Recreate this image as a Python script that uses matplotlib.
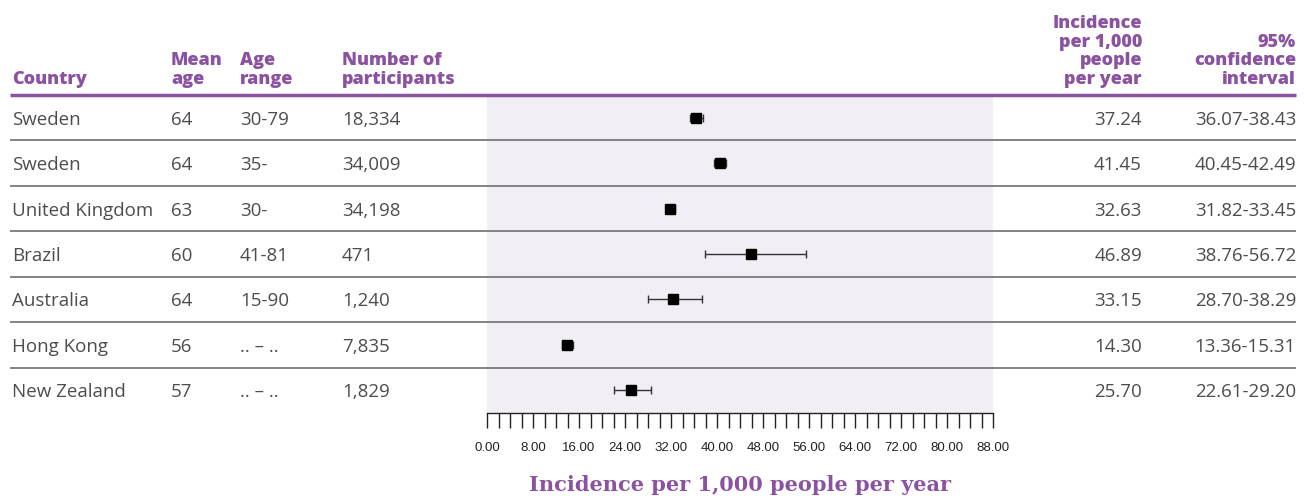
import numpy as np
import matplotlib.pyplot as plt
from matplotlib.transforms import blended_transform_factory

# table data
countries = ["Sweden", "Sweden", "United Kingdom", "Brazil", "Australia", "Hong Kong", "New Zealand"]
mean_age = ["64", "64", "63", "60", "64", "56", "57"]
age_range = ["30-79", "35-", "30-", "41-81", "15-90", ".. \u2013 ..", ".. \u2013 .."]
participants = ["18,334", "34,009", "34,198", "471", "1,240", "7,835", "1,829"]
incidence = np.array([37.24, 41.45, 32.63, 46.89, 33.15, 14.30, 25.70])
ci_low = np.array([36.07, 40.45, 31.82, 38.76, 28.70, 13.36, 22.61])
ci_high = np.array([38.43, 42.49, 33.45, 56.72, 38.29, 15.31, 29.20])
tick_labels = ["0.00", "8.00", "16.00", "24.00", "32.00", "40.00", "48.00",
               "56.00", "64.00", "72.00", "80.00", "88.00"]

purple = "#8b52a1"
grey_text = "#4d4d4d"
W, H = 1309, 496

fig = plt.figure(figsize=(W / 100, H / 100), dpi=100)
ax = fig.add_axes([487 / W, (H - 413) / H, (993 - 487) / W, (413 - 95) / H])
ax.set_facecolor("#f2eef5")

n = len(countries)
rows = np.arange(n) + 0.5
ax.errorbar(incidence, rows, xerr=[incidence - ci_low, ci_high - incidence],
            fmt="s", color="black", ecolor="#333333", elinewidth=1,
            capsize=3, capthick=1, markersize=7, zorder=3)

ax.set_xlim(0, 90)
ax.set_ylim(n, 0)
for s in ["top", "left", "right"]:
    ax.spines[s].set_visible(False)
ax.spines["bottom"].set_color("#222222")
ax.spines["bottom"].set_linewidth(1)
ax.set_yticks([])
ax.set_xticks(np.linspace(0, 90, len(tick_labels)))
ax.set_xticklabels(tick_labels, fontfamily="Liberation Sans", fontsize=9.5, color="#222222")
ax.set_xticks(np.linspace(0, 90, 45), minor=True)
ax.tick_params(axis="x", which="both", direction="out", length=11, width=1,
               color="#222222", pad=10)
ax.set_xlabel("Incidence per 1,000 people per year", fontfamily="DejaVu Serif",
              fontweight="bold", fontsize=15, color=purple, labelpad=15)

# row lines spanning the full table
tr = blended_transform_factory(fig.transFigure, ax.transData)
ax.plot([10 / W, 1296 / W], [0, 0], transform=tr, color=purple, lw=2.5,
        clip_on=False, solid_capstyle="butt", zorder=4)
for i in range(1, n):
    ax.plot([10 / W, 1296 / W], [i, i], transform=tr, color="#7a7a7a", lw=1.3,
            clip_on=False, solid_capstyle="butt", zorder=4)

# table cells
cell = dict(transform=tr, fontfamily="Open Sans", fontsize=13.5, color=grey_text,
            va="center_baseline")
for i in range(n):
    y = rows[i]
    fig.text(12 / W, y, countries[i], ha="left", **cell)
    fig.text(171 / W, y, mean_age[i], ha="left", **cell)
    fig.text(240 / W, y, age_range[i], ha="left", **cell)
    fig.text(342 / W, y, participants[i], ha="left", **cell)
    fig.text(1142 / W, y, f"{incidence[i]:.2f}", ha="right", **cell)
    fig.text(1296 / W, y, f"{ci_low[i]:.2f}-{ci_high[i]:.2f}", ha="right", **cell)

# headers
hdr = dict(fontfamily="Open Sans", fontweight="heavy", fontsize=13, color=purple,
           va="baseline", linespacing=1.12)
hy = (H - 84) / H
fig.text(12 / W, hy, "Country", ha="left", **hdr)
fig.text(171 / W, hy, "Mean\nage", ha="left", **hdr)
fig.text(240 / W, hy, "Age\nrange", ha="left", **hdr)
fig.text(342 / W, hy, "Number of\nparticipants", ha="left", **hdr)
fig.text(1142 / W, hy, "Incidence\nper 1,000\npeople\nper year", ha="right",
         multialignment="right", **hdr)
fig.text(1296 / W, hy, "95%\nconfidence\ninterval", ha="right",
         multialignment="right", **hdr)

fig.savefig("out.png", dpi=100)
